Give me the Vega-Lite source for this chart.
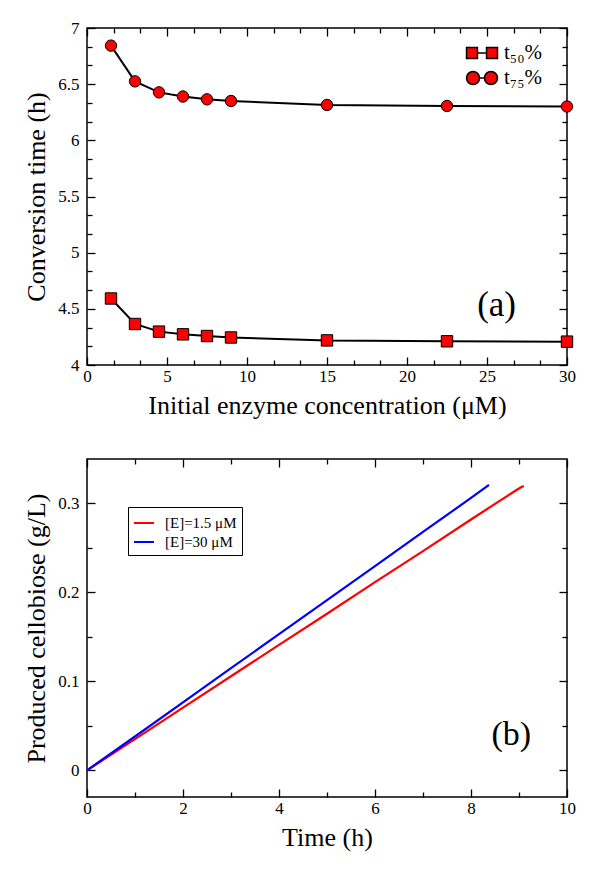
{
  "$schema": "https://vega.github.io/schema/vega-lite/v6.json",
  "padding": {"left": 23, "top": 18, "right": 10, "bottom": 5},
  "background": "white",
  "spacing": 38,
  "resolve": {"legend": {"color": "independent", "shape": "independent"}, "scale": {"color": "independent", "shape": "independent"}},
  "config": {
    "font": "Liberation Serif",
    "view": {"stroke": "black", "strokeWidth": 1.5},
    "text": {"font": "Liberation Serif"},
    "axis": {
      "labelFont": "Liberation Serif", "titleFont": "Liberation Serif",
      "labelFontSize": 17, "titleFontSize": 26, "titleFontWeight": "normal",
      "labelColor": "black", "titleColor": "black", "tickColor": "black",
      "tickWidth": 1.3, "domain": false, "grid": false,
      "labelFlush": false, "labelOverlap": false, "format": "~r"
    },
    "legend": {"labelFont": "Liberation Serif", "labelColor": "black"}
  },
  "datasets": {
    "conv": [
      {"conc": 1.5, "time": 6.843, "series": "t75"},
      {"conc": 3, "time": 6.525, "series": "t75"},
      {"conc": 4.5, "time": 6.427, "series": "t75"},
      {"conc": 6, "time": 6.39, "series": "t75"},
      {"conc": 7.5, "time": 6.365, "series": "t75"},
      {"conc": 9, "time": 6.35, "series": "t75"},
      {"conc": 15, "time": 6.315, "series": "t75"},
      {"conc": 22.5, "time": 6.306, "series": "t75"},
      {"conc": 30, "time": 6.301, "series": "t75"},
      {"conc": 1.5, "time": 4.592, "series": "t50"},
      {"conc": 3, "time": 4.365, "series": "t50"},
      {"conc": 4.5, "time": 4.297, "series": "t50"},
      {"conc": 6, "time": 4.273, "series": "t50"},
      {"conc": 7.5, "time": 4.258, "series": "t50"},
      {"conc": 9, "time": 4.245, "series": "t50"},
      {"conc": 15, "time": 4.219, "series": "t50"},
      {"conc": 22.5, "time": 4.211, "series": "t50"},
      {"conc": 30, "time": 4.208, "series": "t50"}
    ],
    "cello": [
      {"t": 0, "c": 0, "enzyme": "[E]=1.5 μM"},
      {"t": 1, "c": 0.035, "enzyme": "[E]=1.5 μM"},
      {"t": 2, "c": 0.0705, "enzyme": "[E]=1.5 μM"},
      {"t": 3, "c": 0.1058, "enzyme": "[E]=1.5 μM"},
      {"t": 4, "c": 0.141, "enzyme": "[E]=1.5 μM"},
      {"t": 5, "c": 0.176, "enzyme": "[E]=1.5 μM"},
      {"t": 6, "c": 0.2115, "enzyme": "[E]=1.5 μM"},
      {"t": 7, "c": 0.2465, "enzyme": "[E]=1.5 μM"},
      {"t": 8, "c": 0.282, "enzyme": "[E]=1.5 μM"},
      {"t": 8.5, "c": 0.2995, "enzyme": "[E]=1.5 μM"},
      {"t": 8.9, "c": 0.3135, "enzyme": "[E]=1.5 μM"},
      {"t": 9.05, "c": 0.3185, "enzyme": "[E]=1.5 μM"},
      {"t": 9.1, "c": 0.3195, "enzyme": "[E]=1.5 μM"},
      {"t": 0, "c": 0, "enzyme": "[E]=30 μM"},
      {"t": 1, "c": 0.038, "enzyme": "[E]=30 μM"},
      {"t": 2, "c": 0.0765, "enzyme": "[E]=30 μM"},
      {"t": 3, "c": 0.1148, "enzyme": "[E]=30 μM"},
      {"t": 4, "c": 0.153, "enzyme": "[E]=30 μM"},
      {"t": 5, "c": 0.1913, "enzyme": "[E]=30 μM"},
      {"t": 6, "c": 0.2296, "enzyme": "[E]=30 μM"},
      {"t": 7, "c": 0.268, "enzyme": "[E]=30 μM"},
      {"t": 8, "c": 0.3062, "enzyme": "[E]=30 μM"},
      {"t": 8.375, "c": 0.321, "enzyme": "[E]=30 μM"}
    ]
  },
  "vconcat": [
    {
      "width": 480,
      "height": 337,
      "data": {"name": "conv"},
      "resolve": {"axis": {"x": "independent", "y": "independent"}, "scale": {"shape": "independent"}, "legend": {"shape": "independent"}},
      "layer": [
        {
          "mark": {"type": "line", "color": "black", "strokeWidth": 2},
          "encoding": {
            "x": {"field": "conc", "type": "quantitative",
              "scale": {"domain": [0, 30], "nice": false, "zero": false},
              "axis": {"orient": "bottom", "values": [0, 5, 10, 15, 20, 25, 30], "tickSize": -8, "labelPadding": 11,
                "title": "Initial enzyme concentration (μM)", "titlePadding": 8}},
            "y": {"field": "time", "type": "quantitative",
              "scale": {"domain": [4, 7], "nice": false, "zero": false},
              "axis": {"orient": "left", "values": [4, 4.5, 5, 5.5, 6, 6.5, 7], "tickSize": -8, "labelPadding": 16,
                "title": "Conversion time (h)", "titlePadding": 8}},
            "detail": {"field": "series", "type": "nominal"}
          }
        },
        {
          "mark": {"type": "point", "filled": true, "fill": "#ff0000", "stroke": "black", "strokeWidth": 1, "size": 130, "opacity": 1},
          "encoding": {
            "x": {"field": "conc", "type": "quantitative",
              "axis": {"orient": "top", "values": [0, 5, 10, 15, 20, 25, 30], "tickSize": -8, "labels": false, "title": null}},
            "y": {"field": "time", "type": "quantitative",
              "axis": {"orient": "right", "values": [4, 4.5, 5, 5.5, 6, 6.5, 7], "tickSize": -8, "labels": false, "title": null}},
            "shape": {"field": "series", "type": "nominal",
              "scale": {"domain": ["t50", "t75"], "range": ["square", "circle"]},
              "legend": null}
          }
        },
        {
          "data": {"values": [{"label": "(a)"}]},
          "mark": {"type": "text", "fontSize": 35, "font": "Liberation Serif", "baseline": "alphabetic", "align": "center", "color": "black"},
          "encoding": {
            "x": {"datum": 25.6, "type": "quantitative",
              "axis": {"orient": "bottom", "values": [1.6667, 3.3333, 6.6667, 8.3333, 11.6667, 13.3333, 16.6667, 18.3333, 21.6667, 23.3333, 26.6667, 28.3333], "tickSize": -5, "labels": false, "title": null}},
            "y": {"datum": 4.44, "type": "quantitative",
              "axis": {"orient": "left", "values": [4.1667, 4.3333, 4.6667, 4.8333, 5.1667, 5.3333, 5.6667, 5.8333, 6.1667, 6.3333, 6.6667, 6.8333], "tickSize": -5, "labels": false, "title": null}},
            "text": {"field": "label"}
          }
        },
        {
          "mark": {"type": "point", "opacity": 0, "filled": true, "fill": "#ff0000", "stroke": "black", "strokeWidth": 1.5},
          "encoding": {
            "x": {"field": "conc", "type": "quantitative",
              "axis": {"orient": "top", "values": [1.6667, 3.3333, 6.6667, 8.3333, 11.6667, 13.3333, 16.6667, 18.3333, 21.6667, 23.3333, 26.6667, 28.3333], "tickSize": -5, "labels": false, "title": null}},
            "y": {"field": "time", "type": "quantitative",
              "axis": {"orient": "right", "values": [4.1667, 4.3333, 4.6667, 4.8333, 5.1667, 5.3333, 5.6667, 5.8333, 6.1667, 6.3333, 6.6667, 6.8333], "tickSize": -5, "labels": false, "title": null}},
            "shape": {"field": "series", "type": "nominal",
              "scale": {"domain": ["t50", "t75"], "range": [
                "M-1.19,-0.42L-0.35,-0.42L-0.35,0.42L-1.19,0.42Z M-0.35,0L0.35,0 M0.35,-0.42L1.19,-0.42L1.19,0.42L0.35,0.42Z",
                "M-1.19,0A0.5,0.5,0,1,1,-0.19,0A0.5,0.5,0,1,1,-1.19,0Z M-0.19,0L0.19,0 M0.19,0A0.5,0.5,0,1,1,1.19,0A0.5,0.5,0,1,1,0.19,0Z"
              ]},
              "legend": {
                "title": null, "orient": "none", "legendX": 381, "legendY": 11, "padding": 0,
                "symbolSize": 676, "symbolOpacity": 1, "symbolStrokeWidth": 1.5,
                "labelFontSize": 21, "labelOffset": 8, "rowPadding": 1,
                "labelExpr": "datum.value === 't50' ? 't₅₀%' : 't₇₅%'"
              }
            }
          }
        }
      ]
    },
    {
      "width": 480,
      "height": 338,
      "data": {"name": "cello"},
      "resolve": {"axis": {"x": "independent", "y": "independent"}},
      "layer": [
        {
          "mark": {"type": "line", "strokeWidth": 2.2},
          "encoding": {
            "x": {"field": "t", "type": "quantitative",
              "scale": {"domain": [0, 10], "nice": false, "zero": false},
              "axis": {"orient": "bottom", "values": [0, 2, 4, 6, 8, 10], "tickSize": -8, "labelPadding": 11,
                "title": "Time (h)", "titlePadding": 8}},
            "y": {"field": "c", "type": "quantitative",
              "scale": {"domain": [-0.03, 0.35], "nice": false, "zero": false},
              "axis": {"orient": "left", "values": [0, 0.1, 0.2, 0.3], "tickSize": -8, "labelPadding": 16,
                "title": "Produced cellobiose (g/L)", "titlePadding": 8}},
            "color": {"field": "enzyme", "type": "nominal",
              "scale": {"domain": ["[E]=1.5 μM", "[E]=30 μM"], "range": ["#ff0000", "#0000ff"]},
              "legend": {
                "title": null, "orient": "none", "legendX": 41, "legendY": 48, "padding": 5,
                "strokeColor": "black", "fillColor": "white",
                "symbolType": "stroke", "symbolSize": 400, "symbolStrokeWidth": 2,
                "labelFontSize": 15, "labelOffset": 10, "rowPadding": -3
              }
            }
          }
        },
        {
          "data": {"values": [{"label": "(b)"}]},
          "mark": {"type": "text", "fontSize": 34, "font": "Liberation Serif", "baseline": "alphabetic", "align": "center", "color": "black"},
          "encoding": {
            "x": {"datum": 8.84, "type": "quantitative",
              "axis": {"orient": "top", "values": [0, 2, 4, 6, 8, 10], "tickSize": -8, "labels": false, "title": null}},
            "y": {"datum": 0.028, "type": "quantitative",
              "axis": {"orient": "right", "values": [0, 0.1, 0.2, 0.3], "tickSize": -8, "labels": false, "title": null}},
            "text": {"field": "label"}
          }
        },
        {
          "mark": {"type": "point", "opacity": 0},
          "encoding": {
            "x": {"field": "t", "type": "quantitative",
              "axis": {"orient": "bottom", "values": [1, 3, 5, 7, 9], "tickSize": -5, "labels": false, "title": null}},
            "y": {"field": "c", "type": "quantitative",
              "axis": {"orient": "left", "values": [0.05, 0.15, 0.25], "tickSize": -5, "labels": false, "title": null}}
          }
        },
        {
          "mark": {"type": "point", "opacity": 0},
          "encoding": {
            "x": {"field": "t", "type": "quantitative",
              "axis": {"orient": "top", "values": [1, 3, 5, 7, 9], "tickSize": -5, "labels": false, "title": null}},
            "y": {"field": "c", "type": "quantitative",
              "axis": {"orient": "right", "values": [0.05, 0.15, 0.25], "tickSize": -5, "labels": false, "title": null}}
          }
        }
      ]
    }
  ]
}
